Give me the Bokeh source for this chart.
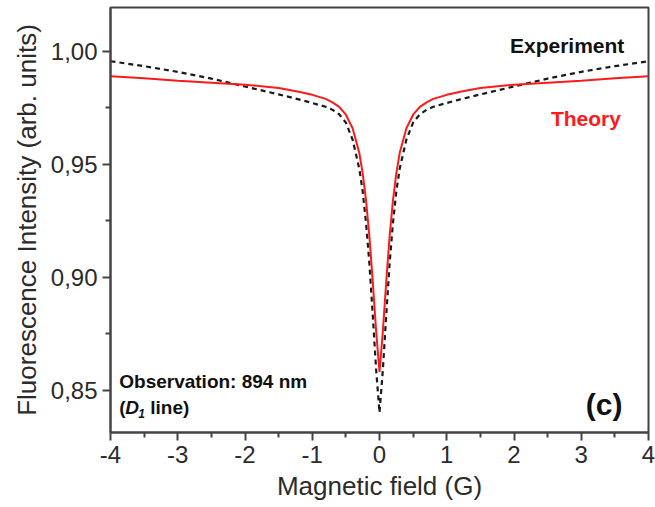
from bokeh.plotting import figure
from bokeh.models import (Range1d, FixedTicker, CustomJSTickFormatter, Label)
from bokeh.embed import file_html
from bokeh.resources import INLINE

# Magnetic field scan (G)
field_theory = [-4.0, -3.5, -3.0, -2.5, -2.0, -1.5, -1.2, -1.0, -0.8, -0.7, -0.6,
                -0.5, -0.4, -0.3, -0.25, -0.2, -0.15, -0.1, -0.05, 0.0,
                0.05, 0.1, 0.15, 0.2, 0.25, 0.3, 0.4, 0.5, 0.6, 0.7, 0.8,
                1.0, 1.2, 1.5, 2.0, 2.5, 3.0, 3.5, 4.0]
intensity_theory = [0.9890, 0.9881, 0.9871, 0.9862, 0.9853, 0.9838, 0.9822, 0.9808,
                    0.9790, 0.9775, 0.9755, 0.9720, 0.9660, 0.9550, 0.9460, 0.9340,
                    0.9180, 0.8980, 0.8760, 0.8580,
                    0.8760, 0.8980, 0.9180, 0.9340, 0.9460, 0.9550, 0.9660, 0.9720,
                    0.9755, 0.9775, 0.9790, 0.9808, 0.9822, 0.9838, 0.9853, 0.9862,
                    0.9871, 0.9881, 0.9890]

field_exp = [-4.0, -3.5, -3.0, -2.5, -2.0, -1.5, -1.2, -1.0, -0.8, -0.7, -0.6,
             -0.5, -0.4, -0.3, -0.25, -0.2, -0.15, -0.1, -0.05, 0.0,
             0.05, 0.1, 0.15, 0.2, 0.25, 0.3, 0.4, 0.5, 0.6, 0.7, 0.8,
             1.0, 1.2, 1.5, 2.0, 2.5, 3.0, 3.5, 4.0]
intensity_exp = [0.9957, 0.9935, 0.9910, 0.9880, 0.9845, 0.9810, 0.9788, 0.9772,
                 0.9755, 0.9742, 0.9722, 0.9685, 0.9610, 0.9480, 0.9380, 0.9240,
                 0.9060, 0.8830, 0.8590, 0.8400,
                 0.8590, 0.8830, 0.9060, 0.9240, 0.9380, 0.9480, 0.9610, 0.9685,
                 0.9722, 0.9742, 0.9755, 0.9772, 0.9788, 0.9810, 0.9845, 0.9880,
                 0.9910, 0.9935, 0.9957]

x_ticks = [-4, -3, -2, -1, 0, 1, 2, 3, 4]
x_minor = [-3.5, -2.5, -1.5, -0.5, 0.5, 1.5, 2.5, 3.5]
y_ticks = [0.85, 0.90, 0.95, 1.00]
y_minor = [0.875, 0.925, 0.975]

FONT = "Liberation Sans"
TXT = "#2b2b2b"

p = figure(width=655, height=507, output_backend="svg", toolbar_location=None,
           x_range=Range1d(-4, 4), y_range=Range1d(0.8312, 1.0195),
           min_border_left=110, min_border_right=7, min_border_top=7,
           min_border_bottom=75)

p.xgrid.visible = False
p.ygrid.visible = False
p.outline_line_color = "#444444"
p.outline_line_width = 2
p.background_fill_color = "white"
p.border_fill_color = "white"

p.line(field_exp, intensity_exp, line_color="#1a1a1a", line_width=2.2,
       line_dash="5 4")
p.line(field_theory, intensity_theory, line_color="#ff1a1a", line_width=2)

for ax in (p.xaxis[0], p.yaxis[0]):
    ax.axis_line_color = "#444444"
    ax.axis_line_width = 2
    ax.major_tick_line_color = "#444444"
    ax.major_tick_line_width = 2
    ax.minor_tick_line_color = "#444444"
    ax.minor_tick_line_width = 2
    ax.major_tick_out = 8
    ax.major_tick_in = 0
    ax.minor_tick_out = 5
    ax.minor_tick_in = 0
    ax.major_label_text_font = FONT
    ax.major_label_text_font_size = "24px"
    ax.major_label_text_color = TXT
    ax.axis_label_text_font = FONT
    ax.axis_label_text_font_size = "26px"
    ax.axis_label_text_font_style = "normal"
    ax.axis_label_text_color = TXT

p.xaxis.ticker = FixedTicker(ticks=x_ticks, minor_ticks=x_minor)
p.yaxis.ticker = FixedTicker(ticks=y_ticks, minor_ticks=y_minor)
p.xaxis.formatter = CustomJSTickFormatter(code="return tick.toFixed(0);")
p.yaxis.formatter = CustomJSTickFormatter(
    code="return tick.toFixed(2).replace('.', ',');")
p.xaxis.axis_label = "Magnetic field (G)"
p.yaxis.axis_label = "Fluorescence Intensity (arb. units)"
p.xaxis.major_label_standoff = 5
p.yaxis.major_label_standoff = 5
p.xaxis.axis_label_standoff = 5
p.yaxis.axis_label_standoff = 6


def note(x, y, text, size="19px", color="#111111", style="bold",
         align="left", x_off=0, y_off=0):
    p.add_layout(Label(x=x, y=y, text=text, text_font=FONT,
                       text_font_size=size, text_font_style=style,
                       text_color=color, text_align=align,
                       text_baseline="middle", x_offset=x_off,
                       y_offset=y_off))


note(2.79, 1.0027, "Experiment", size="21px", align="center")
note(3.07, 0.9702, "Theory", size="21px", color="#ff1a1a", align="center")
note(-3.87, 0.8540, "Observation: 894 nm", size="19px")
note(-3.87, 0.8424, "(", size="19px")
note(-3.87, 0.8424, "D", size="19px", style="bold italic", x_off=6)
note(-3.87, 0.8424, "1", size="12px", style="bold italic", x_off=19, y_off=-6)
note(-3.87, 0.8424, "line)", size="19px", x_off=31)
note(3.34, 0.8438, "(c)", size="30px", align="center")

open("out.html", "w").write(file_html(p, INLINE))
